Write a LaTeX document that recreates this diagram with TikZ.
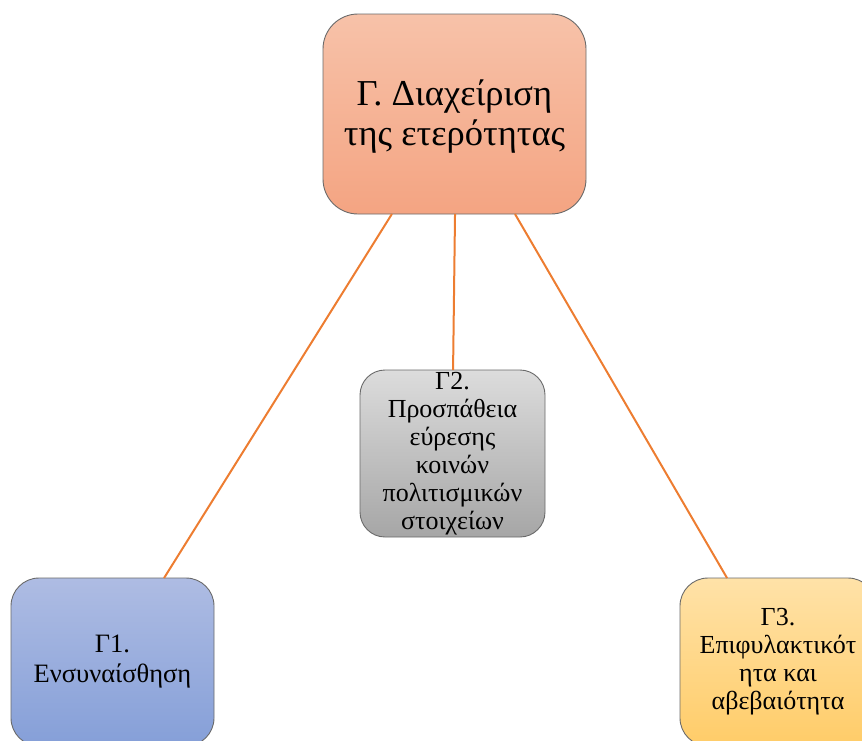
\documentclass[tikz,border=0pt]{standalone}
\usepackage{fontspec}
\setmainfont{Liberation Serif}
\usetikzlibrary{calc}
\definecolor{edgeorange}{HTML}{ED7D31}
\definecolor{boxline}{HTML}{6A6A6A}
\definecolor{salmonT}{HTML}{F7C2A9}
\definecolor{salmonB}{HTML}{F4A482}
\definecolor{greyT}{HTML}{DCDCDC}
\definecolor{greyB}{HTML}{A6A6A6}
\definecolor{blueT}{HTML}{AEBCE3}
\definecolor{blueB}{HTML}{859FD8}
\definecolor{goldT}{HTML}{FFE2A8}
\definecolor{goldB}{HTML}{FFCC68}
\tikzset{
  x=1pt, y=-1pt,
  topicbox/.style={draw=boxline, line width=0.9pt, align=center,
    inner sep=0pt, outer sep=0pt},
  link/.style={draw=edgeorange, line width=2pt}
}
\begin{document}
\begin{tikzpicture}
\useasboundingbox (0,0) rectangle (862,740);
% main theme
\node[topicbox, rounded corners=35pt, minimum width=263pt, minimum height=200pt,
  top color=salmonT, bottom color=salmonB,
  font=\fontsize{36.5}{40}\selectfont] (main) at (454.5,114)
  {\rule{0pt}{30pt}Γ. Διαχείριση\\της ετερότητας};
% sub-themes
\node[topicbox, rounded corners=25pt, minimum width=185pt, minimum height=167pt,
  top color=greyT, bottom color=greyB,
  font=\fontsize{26}{28}\selectfont] (g2) at (452.5,453.5)
  {Γ2.\\Προσπάθεια\\εύρεσης\\κοινών\\πολιτισμικών\\στοιχείων};
\node[topicbox, rounded corners=28pt, minimum width=203pt, minimum height=168pt,
  top color=blueT, bottom color=blueB,
  font=\fontsize{26.5}{30}\selectfont] (g1) at (112.5,662)
  {Γ1.\\Ενσυναίσθηση};
\node[topicbox, rounded corners=28pt, minimum width=196pt, minimum height=168pt,
  top color=goldT, bottom color=goldB,
  font=\fontsize{26}{28}\selectfont] (g3) at (778,662)
  {Γ3.\\Επιφυλακτικότ\\ητα και\\αβεβαιότητα};
% connectors
\coordinate (m1) at ($(main.south west)!0.262!(main.south east)$);
\coordinate (m2) at ($(main.south west)!0.502!(main.south east)$);
\coordinate (m3) at ($(main.south west)!0.73!(main.south east)$);
\coordinate (t1) at ($(g1.north west)!0.754!(g1.north east)$);
\coordinate (t2) at ($(g2.north west)!0.503!(g2.north east)$);
\coordinate (t3) at ($(g3.north west)!0.24!(g3.north east)$);
\draw[link] (m1) -- (t1);
\draw[link] (m2) -- (t2);
\draw[link] (m3) -- (t3);
\end{tikzpicture}
\end{document}
